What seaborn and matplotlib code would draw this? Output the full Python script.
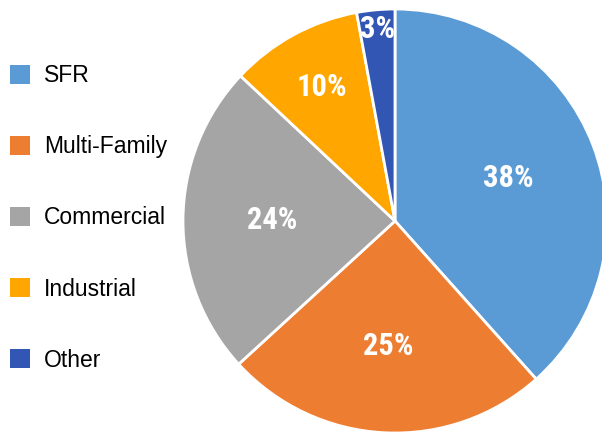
import numpy as np
import matplotlib
matplotlib.use("Agg")
import matplotlib.pyplot as plt
import seaborn as sns

sns.set_theme(style="white")

categories = ["SFR", "Multi-Family", "Commercial", "Industrial", "Other"]
values = [38.4, 24.8, 23.8, 10.1, 2.9]
colors = ["#5B9BD5", "#ED7D31", "#A5A5A5", "#FFA600", "#3156B4"]
label_dist = [0.57, 0.59, 0.58, 0.72, 0.91]

W, H = 602, 433
fig = plt.figure(figsize=(W / 100, H / 100), dpi=100)
ax = fig.add_axes([0, 0, 1, 1])

cx, cy, R = 395, H - 221, 212
wedges, _ = ax.pie(values, colors=colors, startangle=90, counterclock=False,
                   center=(cx, cy), radius=R,
                   wedgeprops=dict(edgecolor="white", linewidth=2))

total = sum(values)
for w, v, d in zip(wedges, values, label_dist):
    ang = np.deg2rad((w.theta1 + w.theta2) / 2)
    x = cx + d * R * np.cos(ang)
    y = cy + d * R * np.sin(ang)
    ax.text(x, y, f"{round(100 * v / total):d}%", ha="center", va="center",
            color="white", fontsize=22, fontweight="bold",
            family=["Roboto Condensed", "DejaVu Sans"])

ax.set_xlim(0, W)
ax.set_ylim(0, H)
ax.set_aspect("equal")
ax.axis("off")

leg = fig.legend(wedges, categories, loc="center left",
                 bbox_to_anchor=(10 / W, 1 - 218 / H), frameon=False,
                 prop=dict(family=["Liberation Sans", "DejaVu Sans"], size=16.5),
                 handlelength=0.88, handleheight=0.88, handletextpad=0.6,
                 labelspacing=2.1, borderpad=0, borderaxespad=0)
for t in leg.get_texts():
    t.set_color("black")
for h in leg.legend_handles:
    h.set_edgecolor("none")

fig.savefig("out.png", dpi=100)
